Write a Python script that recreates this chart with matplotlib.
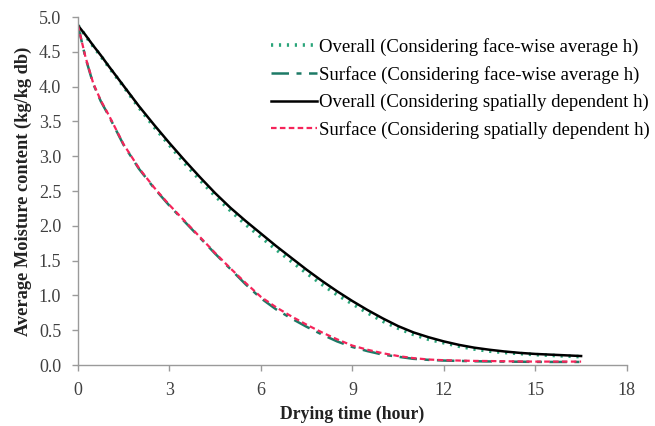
import matplotlib
matplotlib.use("Agg")
import matplotlib.pyplot as plt

plt.rcParams['font.family'] = ['Liberation Serif', 'DejaVu Serif']

# drying time (hour)
time_hr = [0, 0.25, 0.5, 0.75, 1, 1.5, 2, 2.5, 3, 3.5, 4, 4.5, 5, 5.5, 6, 6.5, 7, 7.5,
           8, 8.5, 9, 9.5, 10, 10.5, 11, 11.5, 12, 12.5, 13, 13.5, 14, 14.5, 15, 15.5,
           16, 16.5]

# overall, spatially dependent h
overall_spatial = [4.88, 4.74, 4.59, 4.45, 4.30, 4.01, 3.72, 3.45, 3.19, 2.94, 2.70, 2.47,
                   2.26, 2.07, 1.89, 1.71, 1.54, 1.37, 1.21, 1.06, 0.92, 0.79, 0.67, 0.56,
                   0.47, 0.40, 0.34, 0.29, 0.25, 0.22, 0.195, 0.175, 0.16, 0.15, 0.14, 0.13]

# overall, face-wise average h
overall_facewise = [4.88, 4.73, 4.58, 4.44, 4.29, 4.00, 3.70, 3.42, 3.16, 2.90, 2.66, 2.43,
                    2.22, 2.02, 1.84, 1.66, 1.49, 1.32, 1.16, 1.01, 0.88, 0.75, 0.63, 0.53,
                    0.44, 0.37, 0.32, 0.27, 0.23, 0.20, 0.18, 0.165, 0.15, 0.14, 0.13, 0.12]

# surface, spatially dependent h
surface_spatial = [4.88, 4.42, 4.05, 3.80, 3.60, 3.17, 2.83, 2.55, 2.30, 2.07, 1.84, 1.61,
                   1.39, 1.18, 0.98, 0.83, 0.70, 0.58, 0.47, 0.37, 0.28, 0.22, 0.17, 0.13,
                   0.10, 0.08, 0.07, 0.065, 0.06, 0.058, 0.055, 0.052, 0.05, 0.05, 0.05, 0.05]

# surface, face-wise average h
surface_facewise = [4.88, 4.41, 4.04, 3.79, 3.59, 3.16, 2.82, 2.54, 2.29, 2.06, 1.83, 1.60,
                    1.38, 1.16, 0.96, 0.80, 0.67, 0.55, 0.44, 0.34, 0.26, 0.20, 0.15, 0.12,
                    0.09, 0.075, 0.065, 0.06, 0.055, 0.052, 0.05, 0.048, 0.046, 0.045, 0.045, 0.045]

fig = plt.figure(figsize=(6.55, 4.26), dpi=100)
ax = fig.add_axes([0.119, 0.143, 0.838, 0.817])

ax.plot(time_hr, overall_facewise, color='#2aa57a', linestyle=(0, (0.6, 1.6)), linewidth=2.6,
        label='Overall (Considering face-wise average h)')
ax.plot(time_hr, surface_facewise, color='#1d7a66', linestyle=(0, (7, 3, 2, 3)), linewidth=1.8,
        label='Surface (Considering face-wise average h)')
ax.plot(time_hr, overall_spatial, color='black', linestyle='-', linewidth=1.8,
        label='Overall (Considering spatially dependent h)')
ax.plot(time_hr, surface_spatial, color='#f5245a', linestyle=(0, (2.5, 1.5)), linewidth=1.6,
        label='Surface (Considering spatially dependent h)')

ax.set_xlim(0, 18)
ax.set_ylim(0, 5.0)
ax.set_xticks([0, 3, 6, 9, 12, 15, 18])
ax.set_yticks([0.0, 0.5, 1.0, 1.5, 2.0, 2.5, 3.0, 3.5, 4.0, 4.5, 5.0])
ax.set_yticklabels(['%.1f' % v for v in ax.get_yticks()])

for side in ['top', 'right']:
    ax.spines[side].set_visible(False)
for side in ['left', 'bottom']:
    ax.spines[side].set_color('#9a9a9a')
    ax.spines[side].set_linewidth(1.0)
ax.tick_params(axis='both', colors='#9a9a9a', labelcolor='#404040', labelsize=13,
               direction='out', length=4, width=1)
ax.tick_params(axis='x', pad=8)
ax.tick_params(axis='y', pad=8)

ax.set_xlabel('Drying time (hour)', fontsize=12.8, fontweight='bold', color='#222222', labelpad=5)
ax.set_ylabel('Average Moisture content (kg/kg db)', fontsize=13.2, fontweight='bold',
              color='#222222', labelpad=5)

ax.legend(loc='upper left', bbox_to_anchor=(0.403, 0.928), bbox_transform=fig.transFigure,
          frameon=False, fontsize=13.5, handlelength=2.45, handletextpad=0.1,
          labelspacing=0.53, borderaxespad=0)

fig.savefig('out.png', dpi=100)
